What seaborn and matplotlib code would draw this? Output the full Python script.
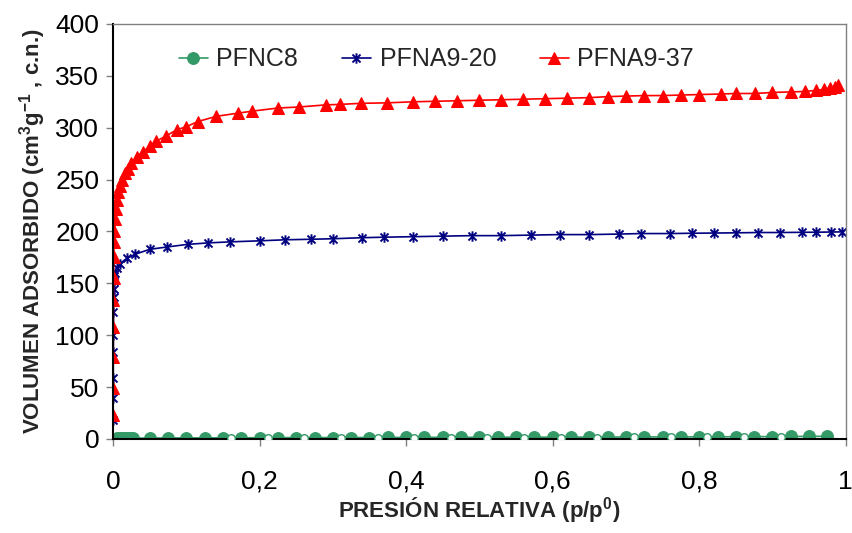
import numpy as np
import pandas as pd
import matplotlib
matplotlib.use("Agg")
import matplotlib.pyplot as plt
from matplotlib.path import Path
import seaborn as sns

# ---------------- data ----------------
red_x = [0.0001, 0.0002, 0.0003, 0.0004, 0.0005, 0.0007, 0.001, 0.0015, 0.002, 0.003,
         0.004, 0.005, 0.007, 0.009, 0.012, 0.016, 0.02, 0.025, 0.033, 0.041, 0.05,
         0.059, 0.072, 0.087, 0.1, 0.116, 0.141, 0.17, 0.19, 0.225, 0.254, 0.29, 0.31,
         0.338, 0.374, 0.41, 0.44, 0.47, 0.5, 0.53, 0.56, 0.59, 0.62, 0.65, 0.676, 0.70,
         0.725, 0.75, 0.775, 0.80, 0.83, 0.85, 0.876, 0.90, 0.925, 0.945, 0.96, 0.97,
         0.978, 0.985, 0.989]
red_y = [23, 49, 79, 108, 134, 155, 175, 190, 200, 212,
         222, 230, 238, 244, 250, 256, 260, 266, 272, 277, 282,
         287, 292, 298, 301, 306, 311, 314, 316, 319, 320, 322, 322.5,
         323.5, 324, 325, 325.5, 326, 326.5, 327, 327.5, 328, 328.5, 329, 330, 330.5,
         331, 331, 331.5, 332, 332.5, 333, 333, 334, 334.5, 335, 336, 337,
         338, 339, 341]

blue_x = [0.0001, 0.0002, 0.0003, 0.0004, 0.0005, 0.0006, 0.0008, 0.001, 0.0015, 0.002,
          0.003, 0.005, 0.0095, 0.0186, 0.03, 0.05, 0.073, 0.102, 0.13, 0.16, 0.2,
          0.235, 0.27, 0.3, 0.34, 0.37, 0.41, 0.45, 0.49, 0.53, 0.57, 0.61, 0.65,
          0.69, 0.72, 0.76, 0.79, 0.82, 0.85, 0.88, 0.91, 0.94, 0.96, 0.98, 0.995]
blue_y = [18, 39.5, 59, 84, 100, 122.7, 137, 145, 152, 157,
          160, 164.5, 169, 174, 178, 182.8, 185, 187.6, 189, 190, 191,
          192, 192.5, 193, 194, 194.5, 195, 195.5, 196, 196, 196.5, 197, 197,
          197.5, 198, 198, 198.3, 198.5, 198.7, 199, 199, 199.2, 199.3, 199.5, 199.6]

green_x = [0.0005, 0.003, 0.006, 0.009, 0.012, 0.015, 0.018, 0.021, 0.024, 0.027,
           0.05, 0.075, 0.1, 0.125, 0.15, 0.175, 0.2, 0.225, 0.25, 0.275, 0.3, 0.325,
           0.35, 0.375, 0.4, 0.425, 0.45, 0.475, 0.5, 0.525, 0.55, 0.575, 0.6, 0.625,
           0.65, 0.675, 0.7, 0.725, 0.75, 0.775, 0.8, 0.825, 0.85, 0.875, 0.9, 0.925,
           0.95, 0.975]
green_y = [0.3, 0.4, 0.5, 0.5, 0.6, 0.6, 0.7, 0.7, 0.7, 0.8,
           0.9, 1.0, 1.0, 1.1, 1.1, 1.2, 1.2, 1.3, 1.3, 1.3, 1.4, 1.4,
           1.4, 1.5, 1.5, 1.5, 1.6, 1.6, 1.6, 1.7, 1.7, 1.7, 1.8, 1.8,
           1.8, 1.9, 1.9, 2.0, 2.0, 2.0, 2.1, 2.1, 2.2, 2.2, 2.3, 2.4,
           2.5, 2.6]
green_des_x = [0.161, 0.211, 0.261, 0.311, 0.361, 0.411, 0.461, 0.511, 0.561, 0.611,
               0.661, 0.711, 0.761, 0.811, 0.861, 0.911]
green_des_y = [0.9, 1.0, 1.0, 1.1, 1.1, 1.2, 1.2, 1.3, 1.3, 1.4,
               1.4, 1.5, 1.6, 1.7, 1.8, 2.0]

labels = ["PFNC8", "PFNA9-20", "PFNA9-37"]
x_ticks = [0, 0.2, 0.4, 0.6, 0.8, 1.0]
x_tick_labels = ["0", "0,2", "0,4", "0,6", "0,8", "1"]
y_ticks = [0, 50, 100, 150, 200, 250, 300, 350, 400]

# ---------------- style ----------------
sns.set_style("white")
plt.rcParams["font.family"] = ["Liberation Sans", "DejaVu Sans"]
plt.rcParams["mathtext.fontset"] = "custom"
plt.rcParams["mathtext.rm"] = "Liberation Sans:bold"
plt.rcParams["mathtext.bf"] = "Liberation Sans:bold"
plt.rcParams["mathtext.default"] = "bf"

GREEN = "#339966"
BLUE = "#000080"
RED = "#FF0000"

star = Path([(-1, -1), (1, 1), (-1, 1), (1, -1), (0, -1.3), (0, 1.3)],
            [Path.MOVETO, Path.LINETO, Path.MOVETO, Path.LINETO, Path.MOVETO, Path.LINETO])

fig = plt.figure(figsize=(8.53, 5.33), dpi=100)
ax = fig.add_axes([0.1325, 0.1764, 0.859, 0.7786])

df_g = pd.DataFrame({"x": green_x, "y": green_y})
df_gd = pd.DataFrame({"x": green_des_x, "y": green_des_y})
df_b = pd.DataFrame({"x": blue_x, "y": blue_y})
df_r = pd.DataFrame({"x": red_x, "y": red_y})

sns.lineplot(data=df_g, x="x", y="y", ax=ax, color=GREEN, lw=1.2, marker="o",
             markersize=8.5, markeredgecolor=GREEN, markerfacecolor=GREEN,
             estimator=None, sort=False, label=labels[0])
sns.scatterplot(data=df_gd, x="x", y="y", ax=ax, s=30, facecolor="white",
                edgecolor=GREEN, linewidth=1, zorder=3)
sns.lineplot(data=df_b, x="x", y="y", ax=ax, color=BLUE, lw=1.2, marker=star,
             markersize=7.5, markeredgecolor=BLUE, markeredgewidth=1.4,
             estimator=None, sort=False, label=labels[1])
sns.lineplot(data=df_r, x="x", y="y", ax=ax, color=RED, lw=1.2, marker="^",
             markersize=9, markeredgecolor=RED, markerfacecolor=RED,
             estimator=None, sort=False, label=labels[2])

ax.set_xlim(0, 1)
ax.set_ylim(0, 400)
ax.set_xticks(x_ticks)
ax.set_xticklabels(x_tick_labels)
ax.set_yticks(y_ticks)
ax.tick_params(axis="both", labelsize=19, direction="out", length=5, width=1,
               color="#808080", labelcolor="black")
ax.tick_params(axis="x", pad=17, bottom=True)
ax.tick_params(axis="y", pad=5, left=True)

for s in ["top", "right"]:
    ax.spines[s].set_color("#808080")
    ax.spines[s].set_linewidth(1)
for s in ["left", "bottom"]:
    ax.spines[s].set_color("black")
    ax.spines[s].set_linewidth(1.5)

ax.set_xlabel("PRESIÓN RELATIVA (p/p$^{0}$)", fontsize=16, fontweight="bold", labelpad=1)
ax.set_ylabel("VOLUMEN ADSORBIDO (cm$^{3}$g$^{-1}$ , c.n.)", fontsize=16,
              fontweight="bold", labelpad=5)

leg = ax.legend(loc="center left", bbox_to_anchor=(0.09, 0.915), ncol=3, frameon=False,
                fontsize=18, handlelength=1.15, columnspacing=1.75, handletextpad=0.35,
                borderpad=0, borderaxespad=0)

fig.savefig("out.png", dpi=100)
